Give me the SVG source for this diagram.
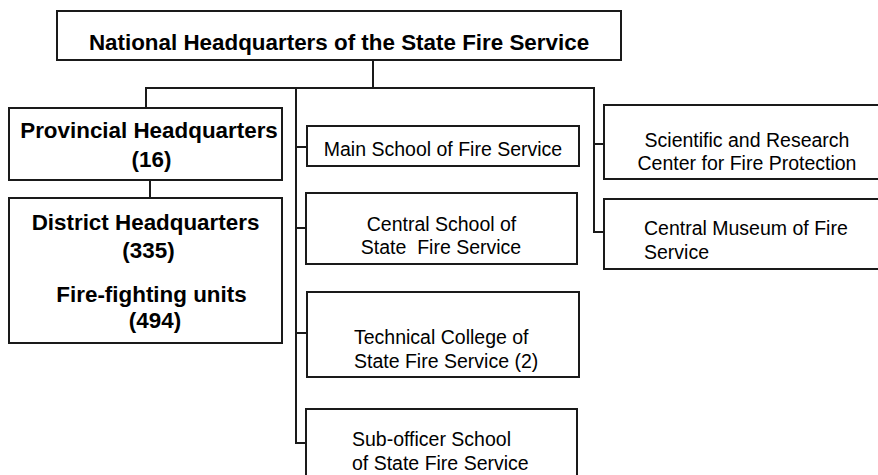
<svg xmlns="http://www.w3.org/2000/svg" width="878" height="475" viewBox="0 0 878 475">
<style>
.box{fill:#fff;stroke:#1a1a1a;stroke-width:2}
.c{fill:none;stroke:#1a1a1a;stroke-width:2}
.b{font-family:"Liberation Sans",Arial,sans-serif;font-weight:bold;font-size:22.4px;fill:#000;text-anchor:middle}
.r{font-family:"Liberation Sans",Arial,sans-serif;font-size:19.5px;fill:#000}
.m{text-anchor:middle}
</style>
<rect width="878" height="475" fill="#fff"/>
<g id="connectors">
<path class="c" d="M373 60 V88"/>
<path class="c" d="M146 108 V88 H594 V232 H604"/>
<path class="c" d="M296 88 V443 H306"/>
<path class="c" d="M296 147 H307"/>
<path class="c" d="M296 228 H306"/>
<path class="c" d="M296 333 H307"/>
<path class="c" d="M594 144 H604"/>
<path class="c" d="M150 180 V198"/>
</g>
<g id="national">
<rect class="box" x="57" y="11" width="564" height="49"/>
<text class="b" x="339" y="50" font-size="22.5">National Headquarters of the State Fire Service</text>
</g>
<g id="provincial">
<rect class="box" x="9" y="108" width="273" height="72"/>
<text class="b" x="149" y="138">Provincial Headquarters</text>
<text class="b" x="151.5" y="167">(16)</text>
</g>
<g id="district">
<rect class="box" x="9" y="198" width="273" height="145"/>
<text class="b" x="145.5" y="230">District Headquarters</text>
<text class="b" x="148.5" y="258">(335)</text>
<text class="b" x="151.5" y="302">Fire-fighting units</text>
<text class="b" x="155" y="328">(494)</text>
</g>
<g id="main-school">
<rect class="box" x="307" y="126" width="272" height="40"/>
<text class="r m" x="443" y="155.5">Main School of Fire Service</text>
</g>
<g id="central-school">
<rect class="box" x="306" y="193" width="271" height="71"/>
<text class="r m" x="441.5" y="230.5">Central School of</text>
<text class="r m" x="441" y="254" xml:space="preserve">State  Fire Service</text>
</g>
<g id="technical-college">
<rect class="box" x="307" y="292" width="272" height="85"/>
<text class="r" x="354" y="343.5">Technical College of</text>
<text class="r" x="354" y="367.5">State Fire Service (2)</text>
</g>
<g id="sub-officer">
<rect class="box" x="306" y="409" width="271" height="80"/>
<text class="r" x="352" y="445.5">Sub-officer School</text>
<text class="r" x="352" y="469.5">of State Fire Service</text>
</g>
<g id="scientific">
<rect class="box" x="604" y="105" width="300" height="74"/>
<text class="r m" x="747" y="146.5">Scientific and Research</text>
<text class="r m" x="747" y="170">Center for Fire Protection</text>
</g>
<g id="museum">
<rect class="box" x="604" y="199" width="300" height="70"/>
<text class="r" x="644" y="235">Central Museum of Fire</text>
<text class="r" x="644" y="259">Service</text>
</g>
</svg>
